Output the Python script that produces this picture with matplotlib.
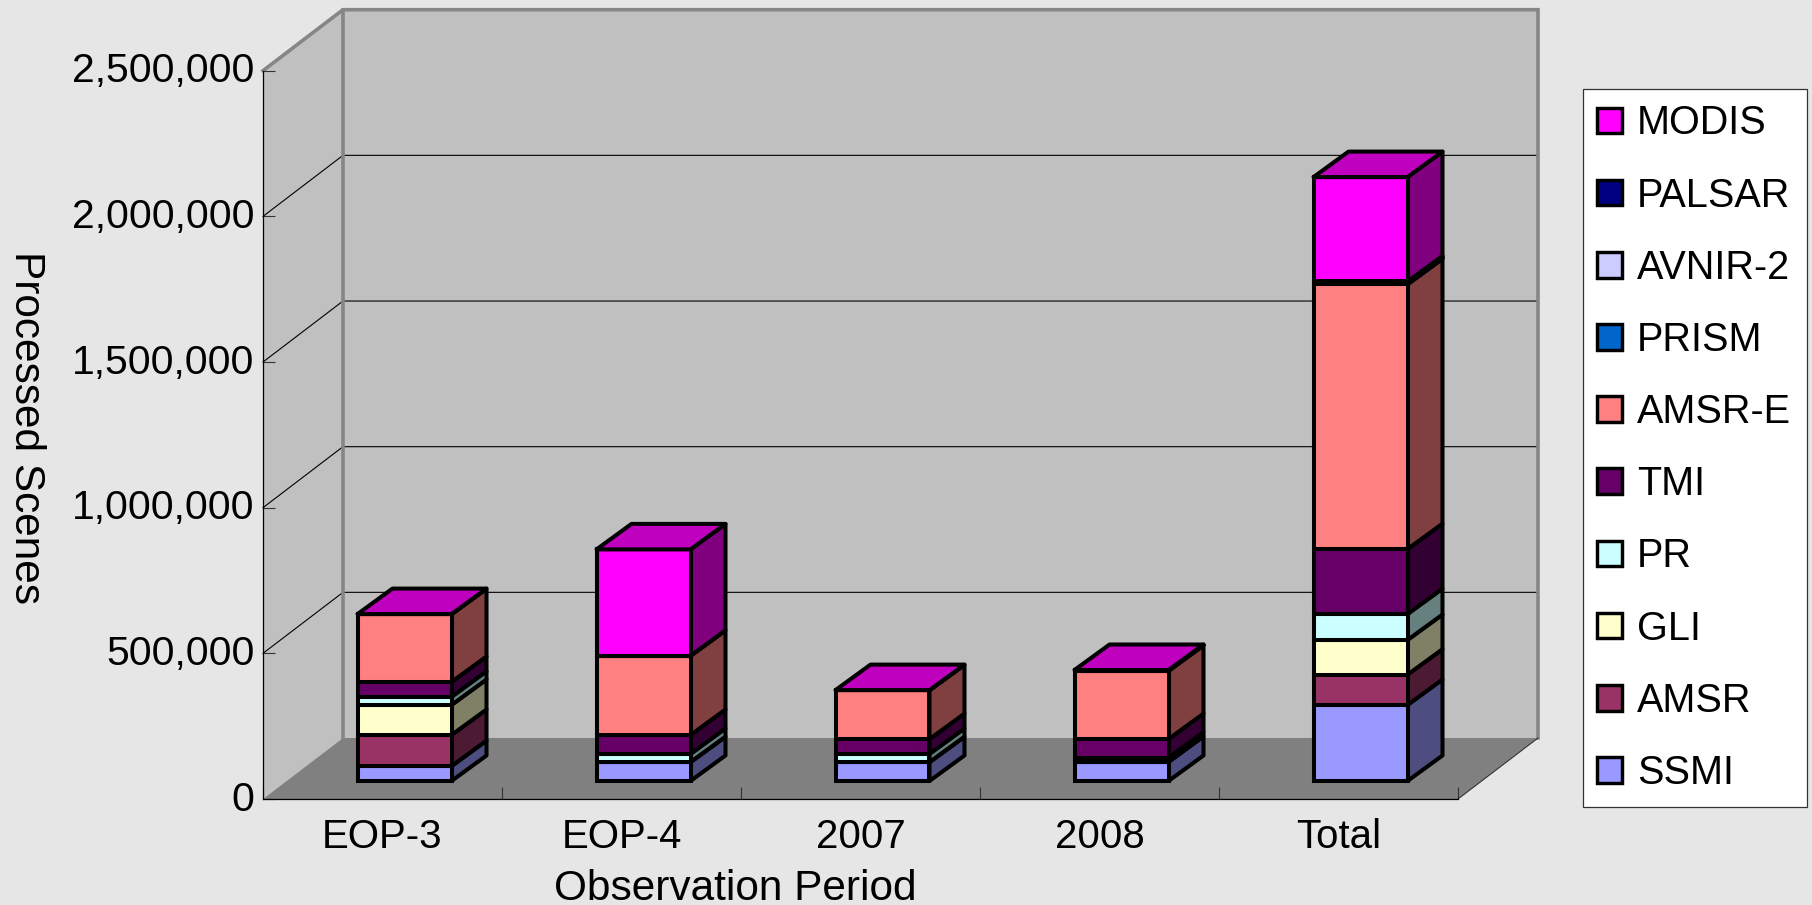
import matplotlib
matplotlib.use('Agg')
import matplotlib.pyplot as plt
from matplotlib.patches import Patch
from matplotlib.ticker import FuncFormatter
from matplotlib.transforms import ScaledTranslation

plt.rcParams['font.family'] = ['Liberation Sans', 'DejaVu Sans']

# data (scenes per layer, bottom to top)
periods = ['EOP-3', 'EOP-4', '2007', '2008', 'Total']
ssmi = [51000, 65000, 65000, 66000, 261000]
amsr = [107000, 0, 0, 0, 104000]
gli = [103000, 0, 0, 0, 119000]
pr = [28000, 28000, 28000, 14000, 89000]
tmi = [51000, 65000, 51000, 64000, 223000]
amsr_e = [233000, 272000, 168000, 234000, 909000]
prism = [0, 0, 0, 1000, 3000]
avnir = [0, 0, 0, 1000, 3000]
palsar = [0, 0, 0, 1000, 4000]
modis = [0, 365000, 0, 0, 358000]

names = ['SSMI', 'AMSR', 'GLI', 'PR', 'TMI', 'AMSR-E', 'PRISM', 'AVNIR-2', 'PALSAR', 'MODIS']
layers = [ssmi, amsr, gli, pr, tmi, amsr_e, prism, avnir, palsar, modis]
colors = ['#9999FF', '#993366', '#FFFFCC', '#CCFFFF', '#660066', '#FF8080',
          '#0066CC', '#CCCCFF', '#000080', '#FF00FF']
yticks = [0, 500000, 1000000, 1500000, 2000000, 2500000]

BG = '#E6E6E6'
WALL = '#C0C0C0'
FLOOR = '#808080'
EDGE = '#868686'
BAR_LW = 2.9

W, H = 1812, 905
AX_L, AX_R, AX_T, AX_B = 263, 1458, 70.7, 799
YMAX = 2500000
px_x = 5.0 / (AX_R - AX_L)          # category units per pixel
px_y = YMAX / (AX_B - AX_T)         # scenes per pixel

# 3d box depth
depth_x = 80 * px_x
depth_y = 61 * px_y
# bars sit part way into the box
bar_dx = 22 * px_x
bar_base = 18 * px_y
bar_w = 94 * px_x
side_x = 35 * px_x
side_y = 25.5 * px_y


def shade(c, k):
    r, g, b = matplotlib.colors.to_rgb(c)
    return (r * k, g * k, b * k)


fig = plt.figure(figsize=(W / 100, H / 100), dpi=100, facecolor=BG)
ax = fig.add_axes([AX_L / W, (H - AX_B) / H, (AX_R - AX_L) / W, (AX_B - AX_T) / H])
ax.patch.set_visible(False)
ax.set_xlim(-0.5, 4.5)
ax.set_ylim(0, YMAX)

x0, x1 = -0.5, 4.5
# walls and floor
ax.fill([x0, x0 + depth_x, x0 + depth_x, x0], [0, depth_y, YMAX + depth_y, YMAX],
        color=WALL, lw=0, zorder=1, clip_on=False)
ax.fill([x0 + depth_x, x1 + depth_x, x1 + depth_x, x0 + depth_x],
        [depth_y, depth_y, YMAX + depth_y, YMAX + depth_y],
        color=WALL, lw=0, zorder=1, clip_on=False)
ax.fill([x0, x1, x1 + depth_x, x0 + depth_x], [0, 0, depth_y, depth_y],
        color=FLOOR, lw=0, zorder=1.1, clip_on=False)

# gridlines
for v in yticks[1:-1]:
    ax.plot([x0, x0 + depth_x, x1 + depth_x], [v, v + depth_y, v + depth_y],
            color='black', lw=0.8, zorder=1.2, clip_on=False)

# wall edges
ax.plot([x0, x0 + depth_x, x1 + depth_x, x1 + depth_x],
        [YMAX, YMAX + depth_y, YMAX + depth_y, depth_y],
        color=EDGE, lw=2.6, zorder=1.3, clip_on=False, solid_joinstyle='miter')
ax.plot([x0 + depth_x, x0 + depth_x], [depth_y, YMAX + depth_y],
        color=EDGE, lw=2.6, zorder=1.3, clip_on=False)
ax.plot([x1, x1 + depth_x], [0, depth_y], color='#333333', lw=0.8, zorder=1.3, clip_on=False)

# stacked 3d bars
for i in range(len(periods)):
    left = i + bar_dx - bar_w / 2
    right = left + bar_w
    y = bar_base
    for vals, c in zip(layers, colors):
        h = vals[i]
        ax.fill([right, right + side_x, right + side_x, right],
                [y, y + side_y, y + h + side_y, y + h],
                facecolor=shade(c, 0.5), edgecolor='black', lw=BAR_LW, zorder=3,
                joinstyle='round', clip_on=False)
        ax.bar(i + bar_dx, h, width=bar_w, bottom=y, color=c, edgecolor='black',
               lw=BAR_LW, zorder=3, clip_on=False)
        y += h
    ax.fill([left, right, right + side_x, left + side_x],
            [y, y, y + side_y, y + side_y],
            facecolor=shade(colors[-1], 0.75), edgecolor='black', lw=BAR_LW, zorder=3,
            joinstyle='round', clip_on=False)

# axes
for s in ['top', 'right']:
    ax.spines[s].set_visible(False)
ax.spines['left'].set_linewidth(0.9)
ax.spines['bottom'].set_linewidth(0.9)
ax.spines['left'].set_zorder(2)
ax.spines['bottom'].set_zorder(2)

ax.set_yticks(yticks)
ax.yaxis.set_major_formatter(FuncFormatter(lambda v, pos: format(int(v), ',')))
ax.tick_params(axis='y', direction='in', length=8.5, width=0.8, pad=6, labelsize=29.5,
               color='#333333', zorder=2)
# the value labels sit a little above their ticks
nudge = ScaledTranslation(0, 3.5 / 100, fig.dpi_scale_trans)
for lbl in ax.get_yticklabels():
    lbl.set_transform(lbl.get_transform() + nudge)

ax.set_xticks(range(len(periods)))
ax.set_xticklabels(periods)
ax.set_xticks([i + 0.5 for i in range(-1, 5)], minor=True)
ax.tick_params(axis='x', which='major', length=0, pad=14, labelsize=29)
ax.tick_params(axis='x', which='minor', direction='in', length=8.5, width=0.8, color='#333333', zorder=2)

ax.set_xlabel('Observation Period', fontsize=30.5)
ax.xaxis.set_label_coords((735 - AX_L) / (AX_R - AX_L), -0.096)
ax.set_ylabel('Processed Scenes', fontsize=30.5, rotation=270, va='center')
ax.yaxis.set_label_coords(-0.198, 0.51)

# legend, top entry first
handles = [Patch(facecolor=c, edgecolor='black', lw=BAR_LW * 0.85) for c in colors[::-1]]
leg = fig.legend(handles, names[::-1], loc='upper left',
                 bbox_to_anchor=(1583 / W, 1 - 806 / H, 224 / W, (806 - 89) / H), mode='expand',
                 borderaxespad=0, fontsize=28.5, frameon=True, fancybox=False, framealpha=1,
                 facecolor='white', edgecolor='#333333',
                 handlelength=0.62, handleheight=0.62, handletextpad=0.4,
                 labelspacing=0.863, borderpad=0.39)
leg.get_frame().set_linewidth(0.9)
# swatches and names start a bit closer to the frame
for p in leg.get_patches():
    p.set_x(p.get_x() - 0.8)
for t in leg.get_texts():
    t.set_x(t.get_position()[0] - 2)

fig.savefig('out.png', dpi=100, facecolor=BG)
